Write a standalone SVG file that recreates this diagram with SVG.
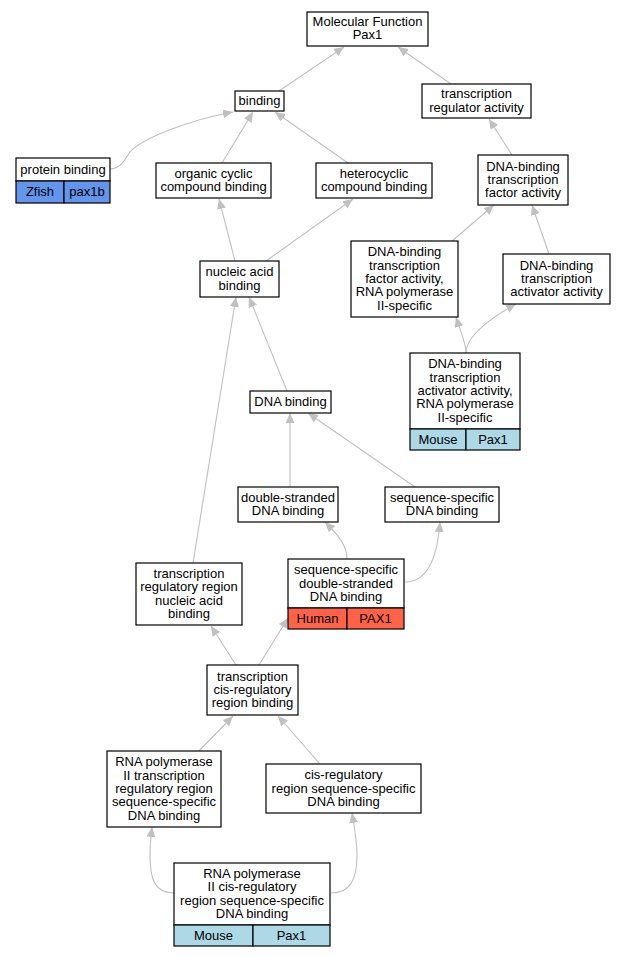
<svg xmlns="http://www.w3.org/2000/svg" width="625" height="957" viewBox="0 0 625 957">
<style>
.n rect{fill:#fff;stroke:#000;stroke-width:1.2}
text{font-family:"Liberation Sans",Arial,sans-serif;font-size:13px;text-anchor:middle;fill:#000}
.e path{fill:none;stroke:#c0c0c0;stroke-width:1.1;marker-end:url(#a)}
rect.z{fill:#6495ed}
rect.m{fill:#add8e6}
rect.h{fill:#ff6347}
</style>
<defs>
<marker id="a" markerUnits="userSpaceOnUse" markerWidth="11" markerHeight="10" refX="10" refY="4.5" orient="auto" viewBox="0 0 11 10">
<path d="M0,0 L10,4.5 L0,9 z" fill="#c0c0c0"/>
</marker>
</defs>
<rect width="625" height="957" fill="#fff"/>
<g class="e">
<path d="M279,91 L344,47"/>
<path d="M451,84 L398,47"/>
<path d="M110,169 C122,168 124,160 130,152 C142,138 190,120 233,112"/>
<path d="M222,163 L253,112"/>
<path d="M348,163 L275,112"/>
<path d="M512,155 L489,119"/>
<path d="M235,261 L219,199"/>
<path d="M266,261 L353,199"/>
<path d="M452,241 L494,205"/>
<path d="M549,254 L532,205"/>
<path d="M466,353 C466,343 461,333 456,317"/>
<path d="M466,353 C466,335 495,315 516,304"/>
<path d="M287,391 L249,297"/>
<path d="M193,563 L236,297"/>
<path d="M290,487 L290,413"/>
<path d="M415,487 L308,413"/>
<path d="M347,559 C347,545 338,535 325,522"/>
<path d="M405,582 C425,582 437,562 440,522"/>
<path d="M236,665 L211,626"/>
<path d="M259,665 L288,618"/>
<path d="M199,751 L233,716"/>
<path d="M320,764 L278,716"/>
<path d="M174,893 C155,893 150,880 150,855 C150,845 151,836 152,827"/>
<path d="M331,893 C350,893 357,880 357,855 C357,840 354,825 352,813"/>
</g>
<g class="n" id="mf"><rect x="307" y="12" width="121" height="34"/><text x="367.5" y="26">Molecular Function</text><text x="367.5" y="39.3">Pax1</text></g>
<g class="n" id="binding"><rect x="235" y="91" width="49" height="20"/><text x="259.5" y="105">binding</text></g>
<g class="n" id="tra"><rect x="422" y="84" width="109" height="34"/><text x="476.5" y="98.3">transcription</text><text x="476.5" y="111.6">regulator activity</text></g>
<g class="n" id="pb"><rect x="16" y="158" width="94" height="23"/><rect class="z" x="16" y="181" width="48" height="22"/><rect class="z" x="64" y="181" width="46" height="22"/><text x="63" y="173.5">protein binding</text><text x="40" y="196">Zfish</text><text x="87" y="196">pax1b</text></g>
<g class="n" id="occ"><rect x="156" y="163" width="115" height="35"/><text x="213.5" y="177.8">organic cyclic</text><text x="213.5" y="191.1">compound binding</text></g>
<g class="n" id="hc"><rect x="316" y="163" width="116" height="35"/><text x="374" y="177.8">heterocyclic</text><text x="374" y="191.1">compound binding</text></g>
<g class="n" id="dbtf"><rect x="478" y="155" width="90" height="50"/><text x="523" y="170.7">DNA-binding</text><text x="523" y="184">transcription</text><text x="523" y="197.3">factor activity</text></g>
<g class="n" id="nab"><rect x="200" y="261" width="79" height="36"/><text x="239.5" y="276.3">nucleic acid</text><text x="239.5" y="289.6">binding</text></g>
<g class="n" id="dbtf2"><rect x="351" y="241" width="107" height="76"/><text x="404.5" y="256.4">DNA-binding</text><text x="404.5" y="269.7">transcription</text><text x="404.5" y="283">factor activity,</text><text x="404.5" y="296.3">RNA polymerase</text><text x="404.5" y="309.6">II-specific</text></g>
<g class="n" id="dbta"><rect x="503" y="254" width="107" height="50"/><text x="556.5" y="269.7">DNA-binding</text><text x="556.5" y="283">transcription</text><text x="556.5" y="296.3">activator activity</text></g>
<g class="n" id="dnab"><rect x="250" y="391" width="81" height="22"/><text x="290.5" y="406">DNA binding</text></g>
<g class="n" id="dbta2"><rect x="410" y="353" width="110" height="76"/><rect class="m" x="410" y="429" width="56" height="21"/><rect class="m" x="466" y="429" width="54" height="21"/><text x="465" y="368.4">DNA-binding</text><text x="465" y="381.7">transcription</text><text x="465" y="395">activator activity,</text><text x="465" y="408.3">RNA polymerase</text><text x="465" y="421.6">II-specific</text><text x="438" y="443.5">Mouse</text><text x="493" y="443.5">Pax1</text></g>
<g class="n" id="ds"><rect x="238" y="487" width="100" height="35"/><text x="288" y="501.8">double-stranded</text><text x="288" y="515.1">DNA binding</text></g>
<g class="n" id="ss"><rect x="385" y="487" width="114" height="35"/><text x="442" y="501.8">sequence-specific</text><text x="442" y="515.1">DNA binding</text></g>
<g class="n" id="trrnab"><rect x="136" y="563" width="106" height="62"/><text x="189" y="578">transcription</text><text x="189" y="591.3">regulatory region</text><text x="189" y="604.6">nucleic acid</text><text x="189" y="617.9">binding</text></g>
<g class="n" id="ssds"><rect x="288" y="559" width="116" height="49"/><rect class="h" x="288" y="608" width="59" height="21"/><rect class="h" x="347" y="608" width="57" height="21"/><text x="346" y="574.2">sequence-specific</text><text x="346" y="587.5">double-stranded</text><text x="346" y="600.8">DNA binding</text><text x="317.5" y="622.5">Human</text><text x="375.5" y="622.5">PAX1</text></g>
<g class="n" id="tcrrb"><rect x="207" y="665" width="91" height="50"/><text x="252.5" y="680.7">transcription</text><text x="252.5" y="694">cis-regulatory</text><text x="252.5" y="707.3">region binding</text></g>
<g class="n" id="rtrr"><rect x="107" y="751" width="114" height="76"/><text x="164" y="766.4">RNA polymerase</text><text x="164" y="779.7">II transcription</text><text x="164" y="793">regulatory region</text><text x="164" y="806.3">sequence-specific</text><text x="164" y="819.6">DNA binding</text></g>
<g class="n" id="crss"><rect x="266" y="764" width="155" height="49"/><text x="343.5" y="779.2">cis-regulatory</text><text x="343.5" y="792.5">region sequence-specific</text><text x="343.5" y="805.8">DNA binding</text></g>
<g class="n" id="rcrss"><rect x="174" y="863" width="156" height="62"/><rect class="m" x="174" y="925" width="79" height="21"/><rect class="m" x="253" y="925" width="77" height="21"/><text x="252" y="878">RNA polymerase</text><text x="252" y="891.3">II cis-regulatory</text><text x="252" y="904.6">region sequence-specific</text><text x="252" y="917.9">DNA binding</text><text x="213.5" y="939.5">Mouse</text><text x="291.5" y="939.5">Pax1</text></g>
</svg>
